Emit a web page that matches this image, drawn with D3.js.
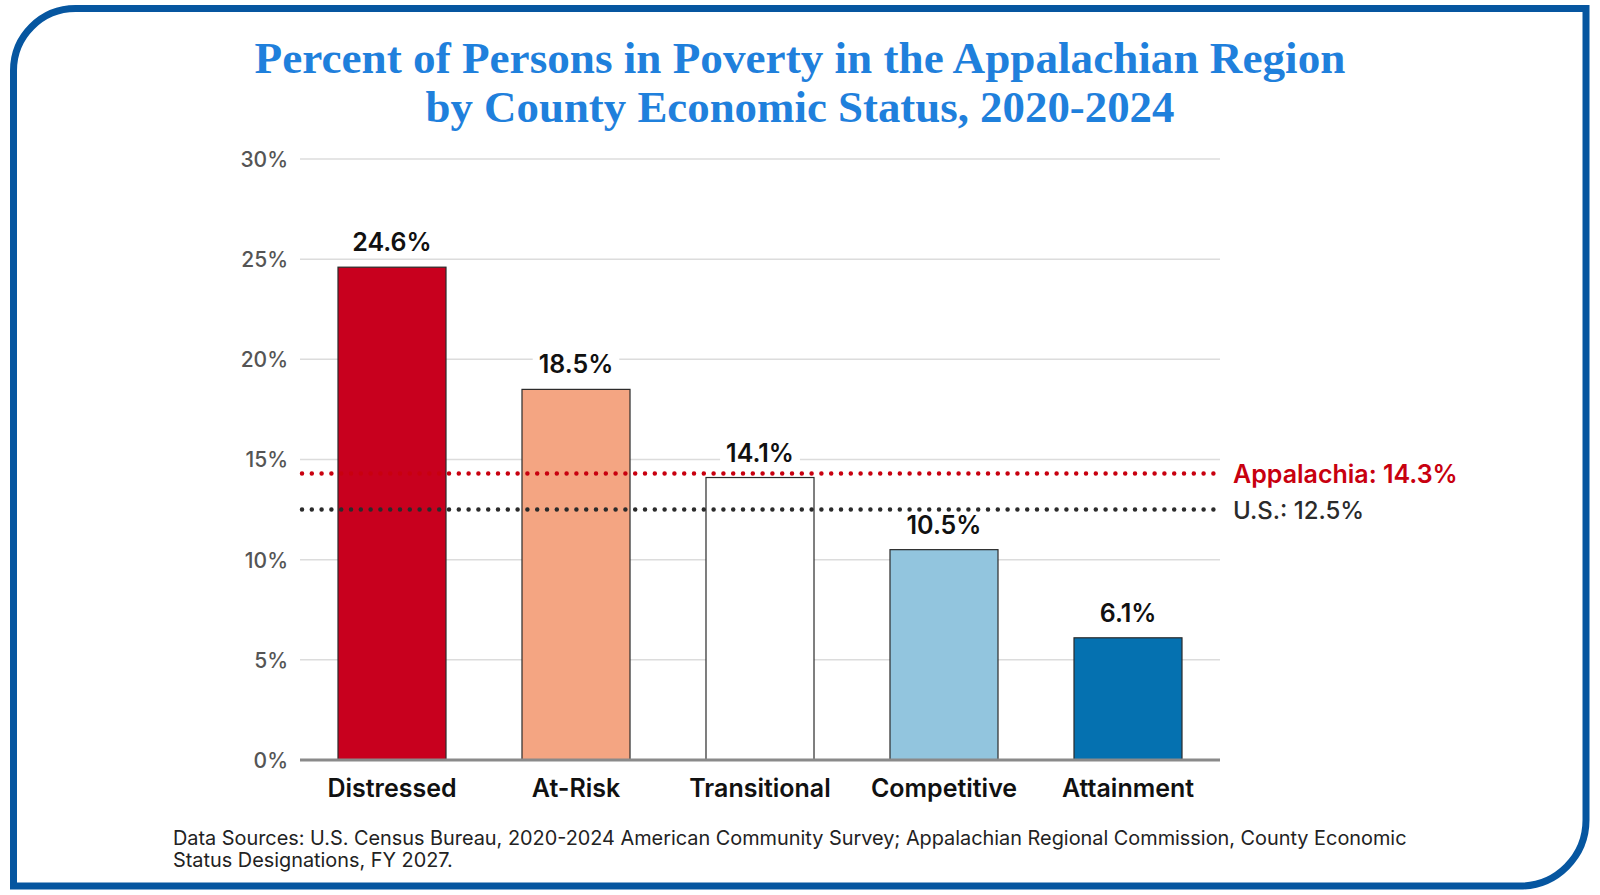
<!DOCTYPE html>
<html>
<head>
<meta charset="utf-8">
<script src="https://cdn.jsdelivr.net/npm/d3@7"></script>
<style>
  html, body { margin: 0; padding: 0; background: #fff; }
  svg { display: block; }
</style>
</head>
<body>
<svg id="chart" width="1600" height="895"></svg>
<script>
// ---------- data ----------
const categories = ["Distressed", "At-Risk", "Transitional", "Competitive", "Attainment"];
const values = [24.6, 18.5, 14.1, 10.5, 6.1];
const barColors = ["#c8001e", "#f4a582", "#ffffff", "#92c5de", "#0571b0"];
const yTicks = [0, 5, 10, 15, 20, 25, 30];
const refNames = ["Appalachia", "U.S."];
const refValues = [14.3, 12.5];
const refColors = ["#c8000f", "#2b2b2b"];
const titleLines = [
  "Percent of Persons in Poverty in the Appalachian Region",
  "by County Economic Status, 2020-2024"
];
const sourceLines = [
  "Data Sources: U.S. Census Bureau, 2020-2024 American Community Survey; Appalachian Regional Commission, County Economic",
  "Status Designations, FY 2027."
];

const SANS = "Inter, 'Noto Sans', 'DejaVu Sans', sans-serif";
const SERIF = "'Liberation Serif', 'DejaVu Serif', serif";

const svg = d3.select("#chart");

// fit text width by adjusting font size
function fitWidth(sel, target) {
  const w = sel.node().getComputedTextLength();
  const fs = parseFloat(sel.attr("font-size"));
  sel.attr("font-size", (fs * target / w).toFixed(2));
}

// ---------- frame ----------
svg.append("path")
  .attr("d", "M13.5,70.5 A62,62 0 0 1 75.5,8.5 L1586,8.5 L1586,820 A66,66 0 0 1 1520,886 L13.5,886 Z")
  .attr("fill", "#fff")
  .attr("stroke", "#0656a0")
  .attr("stroke-width", 7);

// ---------- title ----------
const titleBaselines = [73, 122];
const titleWidths = [1091, 749];
titleLines.forEach((t, i) => {
  const s = svg.append("text")
    .attr("x", 800).attr("y", titleBaselines[i])
    .attr("text-anchor", "middle")
    .attr("font-family", SERIF)
    .attr("font-weight", 700)
    .attr("font-size", 44)
    .attr("fill", "#1f80dc")
    .text(t);
  fitWidth(s, titleWidths[i]);
});

// ---------- scales ----------
const x = d3.scaleBand().domain(categories).range([300, 1220]).paddingInner(0.413).paddingOuter(0.2065);
const y = d3.scaleLinear().domain([0, 30]).range([760, 159]);
const color = d3.scaleOrdinal().domain(categories).range(barColors);

// ---------- gridlines + y axis ----------
const yAxis = d3.axisLeft(y).tickValues(yTicks).tickFormat(d => d + "%").tickSize(0).tickPadding(0);
const gy = svg.append("g").attr("transform", "translate(288,0)").call(yAxis);
gy.select(".domain").remove();
gy.selectAll("text")
  .attr("font-family", SANS)
  .attr("font-size", 21)
  .attr("font-weight", 500)
  .attr("fill", "#555")
  .attr("dy", "0.35em");

svg.append("g").selectAll("line")
  .data(yTicks.filter(d => d > 0))
  .join("line")
  .attr("x1", 300).attr("x2", 1220)
  .attr("y1", d => y(d)).attr("y2", d => y(d))
  .attr("stroke", "#dcdcdc").attr("stroke-width", 1.5);

// ---------- bars ----------
svg.append("g").selectAll("rect")
  .data(categories)
  .join("rect")
  .attr("x", d => x(d))
  .attr("y", (d, i) => y(values[i]))
  .attr("width", x.bandwidth())
  .attr("height", (d, i) => y(0) - y(values[i]))
  .attr("fill", d => color(d))
  .attr("stroke", "#2a2a2a")
  .attr("stroke-width", 1.2);

// baseline (x axis)
const xAxis = d3.axisBottom(x).tickSize(0).tickPadding(0);
const gx = svg.append("g").attr("transform", `translate(0,${y(0)})`).call(xAxis);
gx.select(".domain").attr("stroke", "#8a8a8a").attr("stroke-width", 3)
  .attr("d", "M300,0H1220");
gx.selectAll("text")
  .attr("font-family", SANS)
  .attr("font-size", 25)
  .attr("font-weight", 600)
  .attr("fill", "#111")
  .attr("dy", 0)
  .attr("y", 37);

// ---------- value labels with white backing ----------
const lblG = svg.append("g");
categories.forEach((c, i) => {
  const g = lblG.append("g");
  const t = g.append("text")
    .attr("x", x(c) + x.bandwidth() / 2)
    .attr("y", y(values[i]) - 16)
    .attr("text-anchor", "middle")
    .attr("font-family", SANS)
    .attr("font-size", 25)
    .attr("font-weight", 600)
    .attr("fill", "#111")
    .text(values[i].toFixed(1) + "%");
  const bb = t.node().getBBox();
  g.insert("rect", "text")
    .attr("x", bb.x - 6).attr("y", bb.y)
    .attr("width", bb.width + 12).attr("height", bb.height)
    .attr("fill", "#fff");
});

// ---------- reference lines ----------
refValues.forEach((v, i) => {
  svg.append("line")
    .attr("x1", 302).attr("x2", 1216)
    .attr("y1", y(v)).attr("y2", y(v))
    .attr("stroke", refColors[i])
    .attr("stroke-width", 4.5)
    .attr("stroke-linecap", "round")
    .attr("stroke-dasharray", "0 9.8");
  svg.append("text")
    .attr("x", 1233)
    .attr("y", y(v) + 9)
    .attr("font-family", SANS)
    .attr("font-size", i === 0 ? 25 : 24)
    .attr("font-weight", i === 0 ? 600 : 500)
    .attr("fill", refColors[i])
    .text(refNames[i] + ": " + v.toFixed(1) + "%");
});

// ---------- source ----------
const srcBaselines = [845, 867];
let srcSize = 18;
sourceLines.forEach((t, i) => {
  const s = svg.append("text")
    .attr("x", 173).attr("y", srcBaselines[i])
    .attr("font-family", SANS)
    .attr("font-size", srcSize)
    .attr("font-weight", 400)
    .attr("fill", "#222")
    .text(t);
  if (i === 0) { fitWidth(s, 1235); srcSize = s.attr("font-size"); }
});
</script>
</body>
</html>
